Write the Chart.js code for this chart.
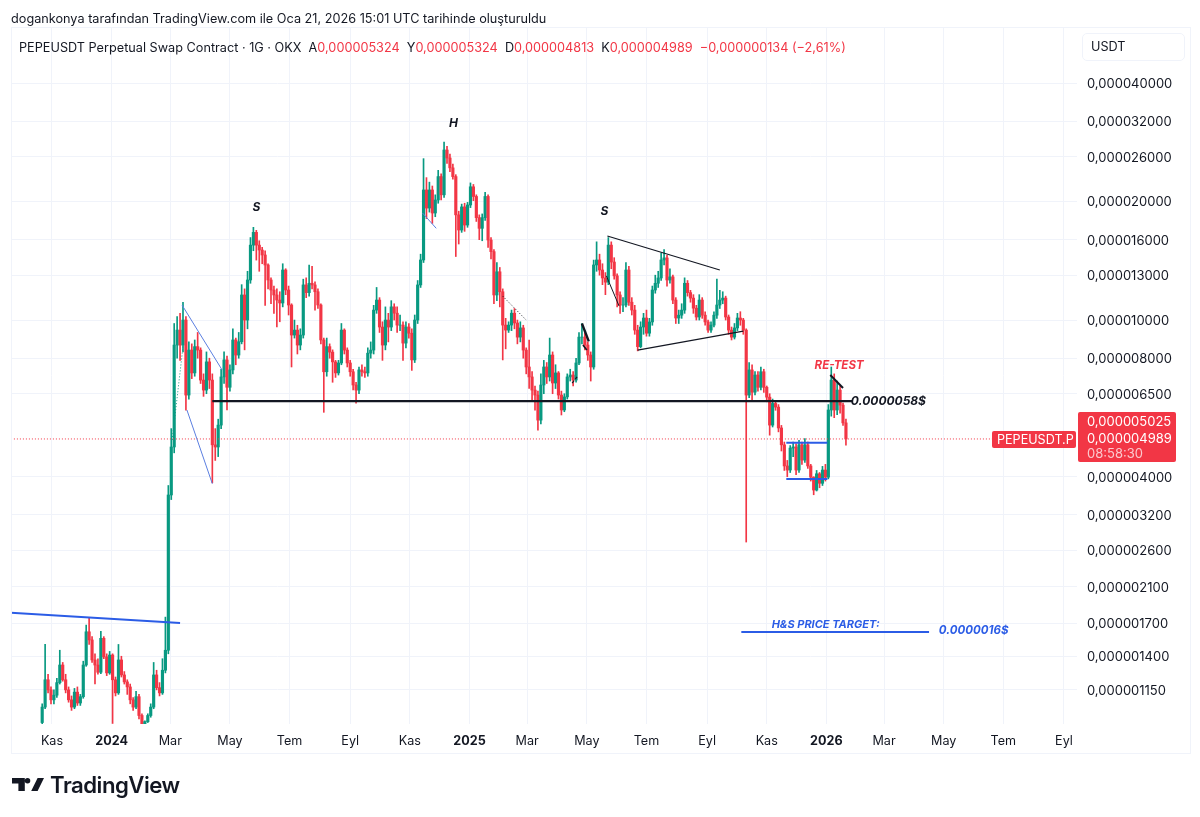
<!DOCTYPE html>
<html><head><meta charset="utf-8">
<style>
html,body{margin:0;padding:0;background:#fff;width:1200px;height:817px;overflow:hidden;font-family:Inter,"Noto Sans",sans-serif;color:#131722}
canvas{position:absolute;left:0;top:0}
.t{position:absolute;white-space:pre;line-height:1}
.r{color:#f23645}
</style>
<script src="https://cdn.jsdelivr.net/npm/chart.js@4"></script>
</head><body>
<canvas id="c" width="1200" height="817"></canvas>
<div style="position:absolute;left:11px;top:27px;width:1178px;height:725px;border:1px solid #f0f3fa;pointer-events:none"></div>
<div class="t" style="left:11px;top:13px;font-size:12.7px">dogankonya tarafından TradingView.com ile Oca 21, 2026 15:01 UTC tarihinde oluşturuldu</div>
<div class="t" style="left:19px;top:42px;font-size:12.7px">PEPEUSDT Perpetual Swap Contract · 1G · OKX  A<span class="r">0,000005324</span>  Y<span class="r">0,000005324</span>  D<span class="r">0,000004813</span>  K<span class="r">0,000004989</span>  <span class="r">−0,000000134 (−2,61%)</span></div>
<div style="position:absolute;left:1082px;top:33px;width:101px;height:26px;border:1px solid #f0f3fa;border-radius:5px"></div>
<div class="t" style="left:1091px;top:41px;font-size:12.7px">USDT</div>
<div style="position:absolute;left:992px;top:431px;width:84px;height:17px;background:#f23645;border-radius:2px"></div>
<div class="t" style="left:997px;top:434px;font-size:12.6px;color:#fff">PEPEUSDT.P</div>
<div style="position:absolute;left:1078px;top:412px;width:98px;height:50px;background:#f23645;border-radius:2px"></div>
<div class="t" style="left:1087px;top:415px;font-size:13px;color:#fff">0,000005025</div>
<div class="t" style="left:1087px;top:432px;font-size:13px;color:#fff">0,000004989</div>
<div class="t" style="left:1087px;top:447px;font-size:13px;color:#fbc9ce">08:58:30</div>
<svg style="position:absolute;left:12px;top:776px" width="32" height="17" viewBox="0 5.5 35 15"><path fill="#131722" d="M14 6H0v6h7v8h7zM28 20h-7l7-14h7zM20 9a3 3 0 1 1-6 0 3 3 0 0 1 6 0"/></svg>
<div class="t" style="left:50px;top:774px;font-size:22.2px;font-weight:600;letter-spacing:-.5px">TradingView</div>
<script>
// prices are in units of 1e-9 USDT; each row of the candle arrays is 30 days of 3-day candles
const firstDay=-10, stepDays=3;
const opens=[
950,1040,1220,1150,1085,1115,1200,1330,1220,1150,
1085,1040,1135,1065,1105,1330,1615,1540,1370,1330,
1275,1555,1395,1270,1410,1220,1130,1370,1255,1205,
1170,1085,1040,1105,990,930,955,990,1040,1255,
1165,1130,1290,1450,3595,4760,8640,9430,8640,10000,
6450,8390,7340,8560,8390,7040,6640,7830,7040,4820,
4760,5410,7170,7920,6750,7470,8900,8150,8810,11580,
10000,12640,15500,16700,15500,15060,14630,13800,12640,11920,
11580,11240,11050,13400,11920,10920,9160,9430,8640,9160,
12280,11740,12400,12280,11800,10920,8900,7390,8560,8290,
7830,7340,7780,9430,8390,7780,7390,6840,6640,7470,
7390,7340,8240,8390,10600,11240,9600,8640,10000,9600,
10800,10410,9710,9710,8740,9600,9260,7920,10000,12280,
14210,21400,19250,21400,18700,20180,23140,20800,27030,25800,
24350,23140,18500,16930,19380,17430,19600,21800,20600,18200,
17100,18200,20600,15970,14920,11580,13260,11800,9710,9430,
9710,10410,9830,9050,9550,8390,7600,7170,6640,6450,
5570,6840,7600,7170,8150,6920,7340,6450,5910,6380,
7170,7250,7040,7780,9050,9050,8640,8150,7600,13800,
14210,13400,12790,12480,15500,14040,12950,11580,10920,10920,
13400,11100,10600,9430,8560,9600,10120,9260,9890,11920,
12400,12790,14210,14380,12640,12870,11240,10120,10290,10600,
12400,11740,11370,10720,10180,11240,10290,9890,9430,9710,
10290,10920,11240,11370,10180,9430,9050,9550,10120,10000,
9430,6450,7470,6560,7250,6750,7390,6750,6370,5410,
6140,6010,5320,4820,4260,4160,4730,4760,4160,4820,
4410,4820,4260,3990,3700,4070,3850,4160,3990,5910,
7040,5910,6640,6080,5480];
const highs=[
1060,1500,1260,1170,1150,1230,1450,1350,1260,1170,
1110,1160,1170,1120,1360,1680,1750,1570,1420,1380,
1620,1570,1420,1440,1420,1240,1500,1400,1280,1220,
1190,1100,1140,1120,1000,960,1000,1060,1350,1290,
1200,1380,1760,3800,5300,9800,10200,10400,11100,10200,
8800,8700,8900,9300,8500,7300,8300,8000,7300,5300,
5600,7500,8300,8100,7700,9500,9000,9300,12300,12000,
13300,16200,17200,16900,15900,15300,15000,13900,12800,12200,
12000,11800,13900,13500,12200,11000,10000,9700,9500,12700,
12800,13800,13700,12500,12000,11000,9000,9000,8700,8400,
7900,7900,9800,9500,8500,7900,7500,6950,7600,7700,
7600,8500,8800,10900,12100,11400,9900,10800,10400,11200,
11000,10800,10300,9900,9900,9800,9500,10300,12600,14700,
25700,23000,22400,21900,20800,24000,23500,28300,27600,26400,
24900,23400,18900,19700,19800,19900,22300,22100,20800,18500,
18600,21100,20800,16200,15100,14000,13600,12000,10100,9900,
10600,10700,10000,9900,9700,8500,8900,7400,6800,6600,
7300,7900,7800,9000,8300,7700,7400,6600,6500,7300,
7500,7400,8000,9300,9800,9300,8800,8300,14200,15800,
14700,13900,13200,16200,15800,14400,13100,11800,11400,14000,
13700,11400,10900,9700,9900,10400,10600,10100,12200,13000,
13300,14800,15100,14600,13500,13000,11400,10600,11000,12800,
12600,11900,11600,10900,11600,11400,10500,10000,9900,10500,
12700,11900,11800,11500,10300,9600,9800,10400,10500,10100,
9500,7800,7700,7400,7400,7600,7500,6800,6500,6300,
6250,6100,5400,4900,4400,4800,4900,4850,4950,4900,
5000,4900,4300,4000,4150,4100,4250,4300,6100,7600,
7300,7000,6800,6150,5600];
const lows=[
930,1030,1130,1060,1060,1100,1190,1210,1130,1070,
1020,1030,1050,1050,1095,1320,1500,1350,1190,1260,
1265,1380,1250,1260,945,1110,1120,1240,1190,1120,
1060,1020,1030,970,920,920,950,980,1030,1150,
1110,1120,1270,1420,3500,4600,8000,7900,8300,5900,
6300,7100,7200,8000,6900,6400,6500,6700,3860,4400,
4500,5300,6900,5910,6600,7300,7700,8000,8700,8400,
9500,12400,15000,14200,13300,13900,10900,12000,11000,10400,
9600,9900,10800,11600,10300,7600,9000,8200,8400,9000,
11400,11500,12000,10600,10700,8700,5830,7200,8000,6950,
7150,7250,7700,8200,7600,7200,6650,6150,6500,7200,
7150,7200,8000,8200,10400,9300,7900,8400,8800,9400,
10000,9300,9400,7900,8500,9000,7450,7800,9800,12100,
14000,18100,18800,17600,18300,19800,20200,20500,25000,23800,
22800,14500,15600,16700,16800,17200,19300,20100,17800,16000,
15900,17900,15300,14300,11000,11200,10800,7920,8450,9300,
9400,9500,8700,8800,8000,7300,6700,6200,5900,5250,
5450,6500,6900,7000,6500,6700,6300,5740,5850,6300,
7000,6800,6950,7700,8700,8400,7900,7000,7500,13300,
13000,12300,11600,12300,13500,12700,10800,10400,10500,10800,
10900,10300,9200,8350,8500,9200,9100,9100,9700,11700,
12100,12600,13800,12200,12400,11000,9800,9800,10100,10400,
11500,11100,10400,10000,10000,10100,9700,9300,9300,9600,
10100,10700,11000,10000,9200,8900,8950,9400,9700,9200,
2730,6350,6200,6450,6600,6650,6550,6200,5100,5350,
5900,5200,4650,4150,4000,4100,4500,4050,4100,4300,
4350,4200,3900,3600,3680,3750,3800,3900,3950,5700,
5650,5750,5800,5400,4813];
const closes=[
1040,1220,1150,1085,1115,1200,1330,1220,1150,1085,
1040,1135,1065,1105,1330,1615,1540,1370,1330,1275,
1555,1395,1270,1410,1220,1130,1370,1255,1205,1170,
1085,1040,1105,990,930,955,990,1040,1255,1165,
1130,1290,1450,3595,4760,8640,9430,8640,10000,6450,
8390,7340,8560,8390,7040,6640,7830,7040,4820,4760,
5410,7170,7920,6750,7470,8900,8150,8810,11580,10000,
12640,15500,16700,15500,15060,14630,13800,12640,11920,11580,
11240,11050,13400,11920,10920,9160,9430,8640,9160,12280,
11740,12400,12280,11800,10920,8900,7390,8560,8290,7830,
7340,7780,9430,8390,7780,7390,6840,6640,7470,7390,
7340,8240,8390,10600,11240,9600,8640,10000,9600,10800,
10410,9710,9710,8740,9600,9260,7920,10000,12280,14210,
21400,19250,21400,18700,20180,23140,20800,27030,25800,24350,
23140,18500,16930,19380,17430,19600,21800,20600,18200,17100,
18200,20600,15970,14920,11580,13260,11800,9710,9430,9710,
10410,9830,9050,9550,8390,7600,7170,6640,6450,5570,
6840,7600,7170,8150,6920,7340,6450,5910,6380,7170,
7250,7040,7780,9050,9050,8640,8150,7600,13800,14210,
13400,12790,12480,15500,14040,12950,11580,10920,10920,13400,
11100,10600,9430,8560,9600,10120,9260,9890,11920,12400,
12790,14210,14380,12640,12870,11240,10120,10290,10600,12400,
11740,11370,10720,10180,11240,10290,9890,9430,9710,10290,
10920,11240,11370,10180,9430,9050,9550,10120,10000,9430,
6450,7470,6560,7250,6750,7390,6750,6370,5410,6140,
6010,5320,4820,4260,4160,4730,4760,4160,4820,4410,
4820,4260,3990,3700,4070,3850,4160,3990,5910,7040,
5910,6640,6080,5480,4989];

const priceTicks=[40000,32000,26000,20000,16000,13000,10000,8000,6500,4000,3200,2600,2100,1700,1400,1150];
const monthDays=[0,61,121,182,243,305,366,427,486,547,608,670,731,792,851,912,973,1035];
const monthLabels=["Kas","2024","Mar","May","Tem","Eyl","Kas","2025","Mar","May","Tem","Eyl","Kas","2026","Mar","May","Tem","Eyl"];

// drawing tools on the chart, as [start, end] in days since 1 Nov 2023 and in price
const toolDays=[[-42,131],[133,174],[138,164],[123,134],[164,819],[379,393],[461,485],[542,549],[543,547],[532,537],[568,683],[599,707],[567,580],[796,809],[751,793],[751,793],[705,897],[-42,962]];
const toolPrices=[[1805,1700],[10920,7470],[5910,3840],[4960,8560],[6225,6225],[18700,17100],[11500,10000],[9800,8830],[8640,8390],[6920,7170],[16350,13400],[8390,9370],[12950,10850],[7250,6720],[4880,4880],[3950,3950],[1613,1613],[4989,4989]];
const noteTexts=["S","H","S","RE-TEST","0.0000058$","H&S PRICE TARGET:","0.0000016$"];
const noteDays=[205,406,561,805,817,736,907];
const notePrices=[19300,31500,18900,7650,6220,1680,1625];

const BLUE="#2b5ce6",BLACK="#131722",RED="#f23645",GREEN="#089981",THINBLUE="#5b7fe0";
const toolStyles=[[BLUE,2],[THINBLUE,1],[THINBLUE,1],[GREEN,1,[1,2]],[BLACK,2.4],[THINBLUE,1],[BLACK,1,[1,2]],[BLACK,2.4],[BLACK,1.6],[BLACK,1.2,[3,2]],[BLACK,1.2],[BLACK,1.2],[BLACK,1],[BLACK,2],[BLUE,2],[BLUE,2],[BLUE,2],[RED,1,[1,2]]];
const noteStyles=[[BLACK,"start",12],[BLACK,"start",12],[BLACK,"start",12],[RED,"center",11.5],[BLACK,"start",12],[BLUE,"start",11],[BLUE,"start",11.5]];

const days=closes.map((_,i)=>firstDay+i*stepDays);
const colors=closes.map((c,i)=>c>=opens[i]?GREEN:RED);
const wicks={type:"bar",order:2,data:days.map((d,i)=>({x:d,y:[lows[i],highs[i]]})),backgroundColor:colors,barThickness:1,grouped:false};
const bodies={type:"bar",order:1,data:days.map((d,i)=>({x:d,y:[opens[i],closes[i]]})),backgroundColor:colors,barThickness:2.5,grouped:false};
const tools=toolDays.map((d,i)=>({type:"line",order:0,data:[{x:d[0],y:toolPrices[i][0]},{x:d[1],y:toolPrices[i][1]}],
  borderColor:toolStyles[i][0],borderWidth:toolStyles[i][1],borderDash:toolStyles[i][2]||[],pointRadius:0,fill:false,tension:0}));

const notesPlugin={id:"notes",afterDatasetsDraw(chart){
  const {ctx,scales:{x,y}}=chart;ctx.save();ctx.textBaseline="middle";
  noteTexts.forEach((t,i)=>{ctx.fillStyle=noteStyles[i][0];ctx.textAlign=noteStyles[i][1];
    ctx.font="italic 700 "+noteStyles[i][2]+"px Inter";
    ctx.fillText(t,x.getPixelForValue(noteDays[i]),y.getPixelForValue(notePrices[i]));});
  ctx.restore();}};

new Chart(document.getElementById("c"),{
  data:{datasets:[wicks,bodies,...tools]},
  plugins:[notesPlugin],
  options:{responsive:false,animation:false,devicePixelRatio:1,
    layout:{padding:{left:11,right:10,top:27,bottom:64}},
    plugins:{legend:{display:false},tooltip:{enabled:false},title:{display:false}},
    scales:{
      x:{type:"linear",offset:false,min:-41.9,max:1048.3,
        afterBuildTicks(s){s.ticks=monthDays.map(v=>({value:v}));},
        afterFit(s){s.height=29;},
        grid:{color:"#f0f3fa",lineWidth:1,drawTicks:false,offset:false},border:{display:false},
        ticks:{autoSkip:false,maxRotation:0,padding:10,color:"#131722",
          callback:v=>monthLabels[monthDays.indexOf(v)],
          font:c=>{const l=monthLabels[monthDays.indexOf(c.tick&&c.tick.value)]||"";return {family:"Inter",size:12.6,weight:/^\d/.test(l)?"700":"400"};}}},
      y:{type:"logarithmic",position:"right",min:942,max:55500,
        afterBuildTicks(s){s.ticks=priceTicks.map(v=>({value:v}));},
        afterFit(s){s.width=113;},
        grid:{color:"#f0f3fa",lineWidth:1,drawTicks:false},border:{display:false},
        ticks:{autoSkip:false,crossAlign:"near",padding:10,labelOffset:1,color:"#131722",font:{family:"Inter",size:13},
          callback:v=>(v/1e9).toFixed(9).replace(".",",")}}
    }}
});
</script>
</body></html>
